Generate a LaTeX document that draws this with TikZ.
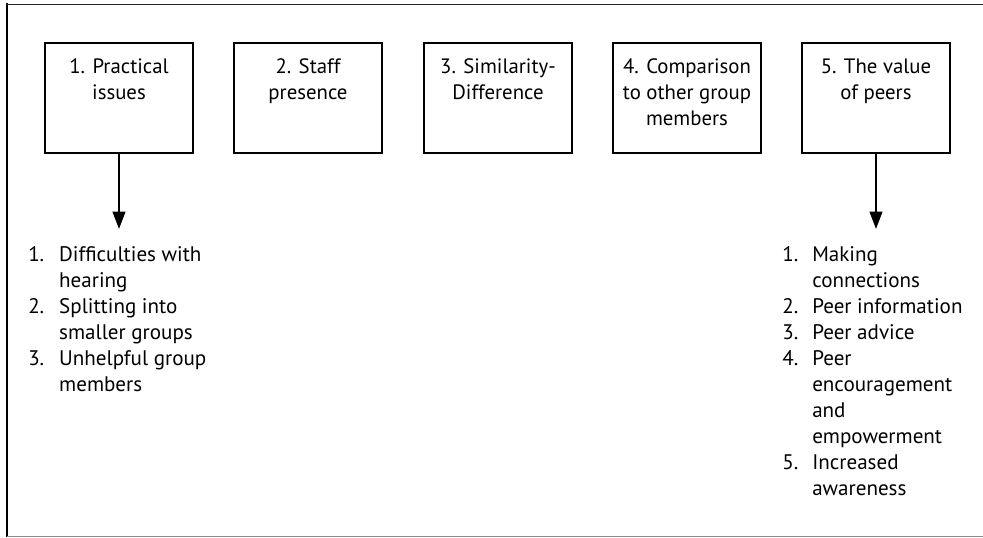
\documentclass[tikz,border=0pt]{standalone}
\usepackage{fontspec}
\setmainfont{PT Sans}
\usetikzlibrary{arrows.meta}
\begin{document}
\begin{tikzpicture}[x=0.75pt,y=-0.75pt,
  box/.style={draw=black,line width=1.6pt,minimum width=111pt,minimum height=82.5pt,inner sep=0pt},
  boxtext/.style={anchor=base,inner sep=0pt,font=\fontsize{15.6}{19.5}\selectfont},
  listtext/.style={anchor=base west,inner sep=0pt,font=\fontsize{15.8}{19.5}\selectfont},
  conn/.style={line width=1.5pt,-{Triangle[length=13pt,width=9.5pt]}}]
\useasboundingbox (0,0) rectangle (983,538);
% frame
\draw[line width=2.2pt] (7,3.5) -- (7,537);
\draw[line width=1.2pt,black!85] (6,4.5) -- (983,4.5);
\draw[line width=0.9pt,black!45] (7,536.5) -- (983,536.5);
% boxes
\node[box] (b1) at (119,98) {};
\node[box] (b2) at (308,98) {};
\node[box] (b3) at (498,98) {};
\node[box] (b4) at (687,98) {};
\node[box] (b5) at (876,98) {};
\renewcommand{\arraystretch}{1}
\setlength{\tabcolsep}{0pt}
\node[boxtext] (t1) at (119,74) {\begin{tabular}[t]{c}1. Practical\\issues\end{tabular}};
\node[boxtext] (t2) at (308,74) {\begin{tabular}[t]{c}2. Staff\\presence\end{tabular}};
\node[boxtext] (t3) at (498,74) {\begin{tabular}[t]{c}3. Similarity-\\Difference\end{tabular}};
\node[boxtext] (t4) at (687,74) {\begin{tabular}[t]{c}4. Comparison\\to other group\\members\end{tabular}};
\node[boxtext] (t5) at (876,74) {\begin{tabular}[t]{c}5. The value\\of peers\end{tabular}};
% arrows
\coordinate (e1) at (119,229);
\coordinate (e5) at (876,229);
\draw[conn] (b1.south) -- (e1);
\draw[conn] (b5.south) -- (e5);
% lists
\node[listtext] (l1) at (28,262) {\begin{tabular}[t]{@{}p{23.2pt}@{}l@{}}
1. & Difficulties with\\
   & hearing\\
2. & Splitting into\\
   & smaller groups\\
3. & Unhelpful group\\
   & members
\end{tabular}};
\node[listtext] (l5) at (782,262) {\begin{tabular}[t]{@{}p{22.5pt}@{}l@{}}
1. & Making\\
   & connections\\
2. & Peer information\\
3. & Peer advice\\
4. & Peer\\
   & encouragement\\
   & and\\
   & empowerment\\
5. & Increased\\
   & awareness
\end{tabular}};
\end{tikzpicture}
\end{document}
